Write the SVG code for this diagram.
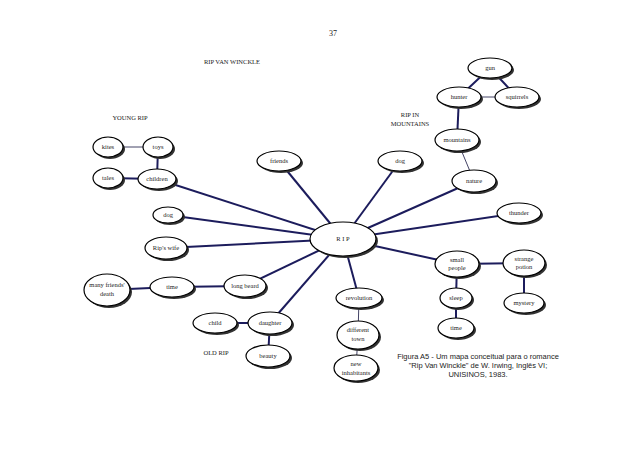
<svg xmlns="http://www.w3.org/2000/svg" width="638" height="452" viewBox="0 0 638 452">
<style>
.n ellipse.s{fill:#333;}
.n ellipse.b{fill:#fff;stroke:#000;stroke-width:1.2;}
text{font-family:"Liberation Serif",serif;font-size:6.5px;fill:#222;text-anchor:middle;}
.l{font-size:6.5px;}
.c line{stroke:#1c1c5c;stroke-width:2;}
.c line.t{stroke-width:1;stroke:#444466;}
.cap{font-family:"Liberation Sans",sans-serif;font-size:7.5px;}
</style>
<rect width="638" height="452" fill="#fff"/>
<text x="333" y="36" style="font-size:8px">37</text>
<text x="232" y="64" class="l">RIP VAN WINCKLE</text>
<text x="130" y="120" class="l">YOUNG RIP</text>
<text x="410" y="117" class="l">RIP IN</text>
<text x="410" y="126" class="l">MOUNTAINS</text>
<text x="216" y="355" class="l">OLD RIP</text>
<g class="c">
<line x1="343" y1="239" x2="157" y2="179"/>
<line x1="343" y1="239" x2="279" y2="161"/>
<line x1="343" y1="239" x2="400" y2="161"/>
<line x1="343" y1="239" x2="474" y2="181"/>
<line x1="343" y1="239" x2="519" y2="213"/>
<line x1="343" y1="239" x2="457" y2="264"/>
<line x1="343" y1="239" x2="359" y2="298"/>
<line x1="343" y1="239" x2="270" y2="323"/>
<line x1="343" y1="239" x2="245" y2="286"/>
<line x1="343" y1="239" x2="166" y2="248"/>
<line x1="343" y1="239" x2="168" y2="215"/>
<line x1="490" y1="68" x2="459" y2="97"/>
<line x1="490" y1="68" x2="517" y2="97"/>
<line class="t" x1="459" y1="97" x2="517" y2="97"/>
<line x1="459" y1="97" x2="457" y2="140"/>
<line class="t" x1="457" y1="140" x2="474" y2="181"/>
<line x1="457" y1="264" x2="524" y2="263"/>
<line x1="457" y1="264" x2="456" y2="298"/>
<line x1="456" y1="298" x2="456" y2="328"/>
<line x1="524" y1="263" x2="524" y2="303"/>
<line class="t" x1="359" y1="298" x2="358" y2="335"/>
<line class="t" x1="358" y1="335" x2="356" y2="368"/>
<line class="t" x1="108" y1="147" x2="158" y2="147"/>
<line x1="158" y1="147" x2="157" y2="179"/>
<line x1="108" y1="178" x2="157" y2="179"/>
<line x1="107" y1="290" x2="172" y2="287"/>
<line x1="172" y1="287" x2="245" y2="286"/>
<line x1="215" y1="323" x2="270" y2="323"/>
<line x1="270" y1="323" x2="268" y2="356"/>
</g>
<defs>
<g id="dummy"/>
</defs>
<g id="gun" class="n"><ellipse class="s" cx="492" cy="70" rx="22" ry="10"/><ellipse class="b" cx="490" cy="68" rx="22" ry="10"/><text x="490" y="70">gun</text></g>
<g id="hunter" class="n"><ellipse class="s" cx="461" cy="99" rx="22" ry="10"/><ellipse class="b" cx="459" cy="97" rx="22" ry="10"/><text x="459" y="99">hunter</text></g>
<g id="squirrels" class="n"><ellipse class="s" cx="519" cy="99" rx="22" ry="10"/><ellipse class="b" cx="517" cy="97" rx="22" ry="10"/><text x="517" y="99">squirrels</text></g>
<g id="mountains" class="n"><ellipse class="s" cx="459" cy="142" rx="22" ry="11"/><ellipse class="b" cx="457" cy="140" rx="22" ry="11"/><text x="457" y="142">mountains</text></g>
<g id="nature" class="n"><ellipse class="s" cx="476" cy="183" rx="22" ry="11"/><ellipse class="b" cx="474" cy="181" rx="22" ry="11"/><text x="474" y="183">nature</text></g>
<g id="dog2" class="n"><ellipse class="s" cx="402" cy="163" rx="22" ry="10"/><ellipse class="b" cx="400" cy="161" rx="22" ry="10"/><text x="400" y="163">dog</text></g>
<g id="friends" class="n"><ellipse class="s" cx="281" cy="163" rx="22" ry="10"/><ellipse class="b" cx="279" cy="161" rx="22" ry="10"/><text x="279" y="163">friends</text></g>
<g id="thunder" class="n"><ellipse class="s" cx="521" cy="215" rx="22" ry="10"/><ellipse class="b" cx="519" cy="213" rx="22" ry="10"/><text x="519" y="215">thunder</text></g>
<g id="rip" class="n"><ellipse class="s" cx="345" cy="241" rx="33" ry="17"/><ellipse class="b" cx="343" cy="239" rx="33" ry="17"/><text x="343" y="241">R I P</text></g>
<g id="smallpeople" class="n"><ellipse class="s" cx="459" cy="266" rx="22" ry="13"/><ellipse class="b" cx="457" cy="264" rx="22" ry="13"/><text x="457" y="262">small</text><text x="457" y="270">people</text></g>
<g id="potion" class="n"><ellipse class="s" cx="526" cy="265" rx="21" ry="13"/><ellipse class="b" cx="524" cy="263" rx="21" ry="13"/><text x="524" y="261">strange</text><text x="524" y="269">potion</text></g>
<g id="sleep" class="n"><ellipse class="s" cx="458" cy="300" rx="16" ry="10"/><ellipse class="b" cx="456" cy="298" rx="16" ry="10"/><text x="456" y="300">sleep</text></g>
<g id="mystery" class="n"><ellipse class="s" cx="526" cy="305" rx="20" ry="10"/><ellipse class="b" cx="524" cy="303" rx="20" ry="10"/><text x="524" y="305">mystery</text></g>
<g id="time2" class="n"><ellipse class="s" cx="458" cy="330" rx="18" ry="10"/><ellipse class="b" cx="456" cy="328" rx="18" ry="10"/><text x="456" y="330">time</text></g>
<g id="revolution" class="n"><ellipse class="s" cx="361" cy="300" rx="23" ry="10"/><ellipse class="b" cx="359" cy="298" rx="23" ry="10"/><text x="359" y="300">revolution</text></g>
<g id="town" class="n"><ellipse class="s" cx="360" cy="337" rx="21" ry="14"/><ellipse class="b" cx="358" cy="335" rx="21" ry="14"/><text x="358" y="332">different</text><text x="358" y="341">town</text></g>
<g id="inhabitants" class="n"><ellipse class="s" cx="358" cy="370" rx="22" ry="13"/><ellipse class="b" cx="356" cy="368" rx="22" ry="13"/><text x="356" y="366">new</text><text x="356" y="375">inhabitants</text></g>
<g id="kites" class="n"><ellipse class="s" cx="110" cy="149" rx="15" ry="10"/><ellipse class="b" cx="108" cy="147" rx="15" ry="10"/><text x="108" y="149">kites</text></g>
<g id="toys" class="n"><ellipse class="s" cx="160" cy="149" rx="15" ry="10"/><ellipse class="b" cx="158" cy="147" rx="15" ry="10"/><text x="158" y="149">toys</text></g>
<g id="tales" class="n"><ellipse class="s" cx="110" cy="180" rx="15" ry="10"/><ellipse class="b" cx="108" cy="178" rx="15" ry="10"/><text x="108" y="180">tales</text></g>
<g id="children" class="n"><ellipse class="s" cx="159" cy="181" rx="19" ry="10"/><ellipse class="b" cx="157" cy="179" rx="19" ry="10"/><text x="157" y="181">children</text></g>
<g id="dog1" class="n"><ellipse class="s" cx="170" cy="217" rx="15" ry="8"/><ellipse class="b" cx="168" cy="215" rx="15" ry="8"/><text x="168" y="217">dog</text></g>
<g id="ripswife" class="n"><ellipse class="s" cx="168" cy="250" rx="21" ry="11"/><ellipse class="b" cx="166" cy="248" rx="21" ry="11"/><text x="166" y="250">Rip's wife</text></g>
<g id="death" class="n"><ellipse class="s" cx="109" cy="292" rx="23" ry="16"/><ellipse class="b" cx="107" cy="290" rx="23" ry="16"/><text x="107" y="287">many friends'</text><text x="107" y="296">death</text></g>
<g id="time1" class="n"><ellipse class="s" cx="174" cy="289" rx="22" ry="10"/><ellipse class="b" cx="172" cy="287" rx="22" ry="10"/><text x="172" y="289">time</text></g>
<g id="beard" class="n"><ellipse class="s" cx="247" cy="288" rx="21" ry="11"/><ellipse class="b" cx="245" cy="286" rx="21" ry="11"/><text x="245" y="288">long beard</text></g>
<g id="child" class="n"><ellipse class="s" cx="217" cy="325" rx="22" ry="10"/><ellipse class="b" cx="215" cy="323" rx="22" ry="10"/><text x="215" y="325">child</text></g>
<g id="daughter" class="n"><ellipse class="s" cx="272" cy="325" rx="22" ry="11"/><ellipse class="b" cx="270" cy="323" rx="22" ry="11"/><text x="270" y="325">daughter</text></g>
<g id="beauty" class="n"><ellipse class="s" cx="270" cy="358" rx="22" ry="11"/><ellipse class="b" cx="268" cy="356" rx="22" ry="11"/><text x="268" y="358">beauty</text></g>
<text class="cap" x="478" y="359">Figura A5 - Um mapa conceitual para o romance</text>
<text class="cap" x="478" y="368">"Rip Van Winckle" de W. Irwing, Inglês VI;</text>
<text class="cap" x="478" y="377">UNISINOS, 1983.</text>
</svg>
